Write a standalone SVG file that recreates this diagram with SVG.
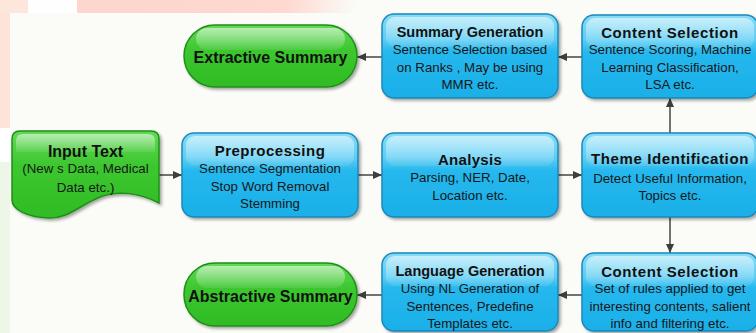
<svg xmlns="http://www.w3.org/2000/svg" width="756" height="333" viewBox="0 0 756 333">
  <defs>
    <style>
      .t { font-family: "Liberation Sans", Arial, sans-serif; text-anchor: middle; fill: #111; }
      .title { font-weight: bold; font-size: 14.5px; }
      .wide { letter-spacing: 0.6px; font-size: 15px; }
      .pill { font-weight: bold; font-size: 16px; }
      .body { font-size: 13.3px; fill: #161616; }
      .conn { stroke: #454545; stroke-width: 1.5; fill: none; marker-end: url(#arrow); }
      .blue { fill: url(#blueFill); stroke: #1a88bb; stroke-width: 1.5; filter: url(#shadow); }
      .green { fill: url(#greenFill); stroke: #1f8f18; stroke-width: 1.5; filter: url(#shadow); }
      .gloss { fill: url(#gloss); }
    </style>
    <linearGradient id="blueFill" x1="0" y1="0" x2="0" y2="1">
      <stop offset="0" stop-color="#86dcf7"/>
      <stop offset="0.3" stop-color="#5ccdf4"/>
      <stop offset="0.45" stop-color="#25b8ee"/>
      <stop offset="1" stop-color="#1aafe8"/>
    </linearGradient>
    <linearGradient id="greenFill" x1="0" y1="0" x2="0" y2="1">
      <stop offset="0" stop-color="#63d957"/>
      <stop offset="0.4" stop-color="#3cc72f"/>
      <stop offset="1" stop-color="#30bb24"/>
    </linearGradient>
    <linearGradient id="gloss" x1="0" y1="0" x2="0" y2="1">
      <stop offset="0" stop-color="#ffffff" stop-opacity="0.55"/>
      <stop offset="1" stop-color="#ffffff" stop-opacity="0.08"/>
    </linearGradient>
    <linearGradient id="pinkBand" x1="0" y1="0" x2="1" y2="0">
      <stop offset="0" stop-color="#fdd6cd"/>
      <stop offset="0.75" stop-color="#fdd9d1"/>
      <stop offset="1" stop-color="#fbfcf7"/>
    </linearGradient>
    <filter id="shadow" x="-10%" y="-10%" width="125%" height="130%">
      <feDropShadow dx="2" dy="2" stdDeviation="1.5" flood-color="#000" flood-opacity="0.35"/>
    </filter>
    <marker id="arrow" viewBox="0 0 9 8" refX="9" refY="4" markerWidth="9" markerHeight="8" markerUnits="userSpaceOnUse" orient="auto">
      <path d="M0,0 L9,4 L0,8 z" fill="#3d3d3d"/>
    </marker>
  </defs>

  <!-- page background with tinted margins -->
  <rect x="0" y="0" width="756" height="333" fill="#fbfcf7"/>
  <rect x="0" y="0" width="28" height="13" fill="#fde6dc"/>
  <rect x="28" y="0" width="49" height="13" fill="#fefefe"/>
  <rect x="77" y="0" width="280" height="13" fill="url(#pinkBand)"/>
  <rect x="0" y="13" width="10" height="115" fill="#fde3da"/>
  <rect x="0" y="128" width="10" height="34" fill="#ffffff"/>
  <rect x="0" y="162" width="10" height="171" fill="#eef6e8"/>

  <!-- connectors -->
  <g id="connectors">
    <path class="conn" d="M159,175 L182,175"/>
    <path class="conn" d="M358,175 L382,175"/>
    <path class="conn" d="M558,175 L582,175"/>
    <path class="conn" d="M670,133 L670,98"/>
    <path class="conn" d="M670,217 L670,253"/>
    <path class="conn" d="M582,57 L558,57"/>
    <path class="conn" d="M382,57 L357,57"/>
    <path class="conn" d="M582,295 L558,295"/>
    <path class="conn" d="M382,295 L357,295"/>
  </g>

  <!-- input document -->
  <g id="input-text">
    <path class="green" d="M12,139 Q12,131 20,131 L151,131 Q159,131 159,139 L159,203 C140,193 118,190 100,197 C80,205 68,219 48,218 C28,217 12,210 12,200 Z"/>
    <path class="gloss" d="M16,141 Q16,134 23,134 L148,134 Q155,134 155,141 L155,152 L16,152 Z"/>
    <text class="t pill" x="85.5" y="157">Input Text</text>
    <text class="t body" x="85.5" y="172.5">(New s Data, Medical</text>
    <text class="t body" x="85.5" y="191.5">Data etc.)</text>
  </g>

  <g id="preprocessing">
    <rect class="blue" x="182" y="133" width="176" height="84" rx="12"/>
    <rect class="gloss" x="186" y="136" width="168" height="30" rx="9"/>
    <text class="t title" x="270" y="155.5" style="font-size:15px;letter-spacing:0.5px">Preprocessing</text>
    <text class="t body" x="270" y="172.5">Sentence Segmentation</text>
    <text class="t body" x="270" y="190.5">Stop Word Removal</text>
    <text class="t body" x="270" y="207.5">Stemming</text>
  </g>

  <g id="analysis">
    <rect class="blue" x="382" y="133" width="176" height="84" rx="12"/>
    <rect class="gloss" x="386" y="136" width="168" height="30" rx="9"/>
    <text class="t title" x="470" y="164.5" style="font-size:15px;letter-spacing:0.3px">Analysis</text>
    <text class="t body" x="470" y="181.5">Parsing, NER, Date,</text>
    <text class="t body" x="470" y="199.5">Location etc.</text>
  </g>

  <g id="theme-identification">
    <rect class="blue" x="582" y="133" width="176" height="84" rx="12"/>
    <rect class="gloss" x="586" y="136" width="168" height="30" rx="9"/>
    <text class="t title wide" x="670" y="163.5">Theme Identification</text>
    <text class="t body" x="670" y="182.5">Detect Useful Information,</text>
    <text class="t body" x="670" y="199.5">Topics etc.</text>
  </g>

  <g id="content-selection-top">
    <rect class="blue" x="582" y="15" width="176" height="83" rx="12"/>
    <rect class="gloss" x="586" y="18" width="168" height="30" rx="9"/>
    <text class="t title wide" x="670" y="37.5">Content Selection</text>
    <text class="t body" x="670" y="53.5">Sentence Scoring, Machine</text>
    <text class="t body" x="670" y="71.5">Learning Classification,</text>
    <text class="t body" x="670" y="89">LSA etc.</text>
  </g>

  <g id="summary-generation">
    <rect class="blue" x="382" y="14" width="176" height="84" rx="12"/>
    <rect class="gloss" x="386" y="17" width="168" height="30" rx="9"/>
    <text class="t title" x="470" y="37">Summary Generation</text>
    <text class="t body" x="470" y="53.5">Sentence Selection based</text>
    <text class="t body" x="470" y="71.5">on Ranks , May be using</text>
    <text class="t body" x="470" y="88.5">MMR etc.</text>
  </g>

  <g id="extractive-summary">
    <rect class="green" x="184" y="25" width="173" height="62" rx="31"/>
    <rect class="gloss" x="196" y="28" width="149" height="22" rx="11"/>
    <text class="t pill" x="270.5" y="62.5">Extractive Summary</text>
  </g>

  <g id="content-selection-bottom">
    <rect class="blue" x="582" y="253" width="176" height="78" rx="12"/>
    <rect class="gloss" x="586" y="256" width="168" height="30" rx="9"/>
    <text class="t title wide" x="670" y="276.5">Content Selection</text>
    <text class="t body" x="670" y="292.5">Set of rules applied to get</text>
    <text class="t body" x="670" y="310.5">interesting contents, salient</text>
    <text class="t body" x="670" y="327.5">info and filtering etc.</text>
  </g>

  <g id="language-generation">
    <rect class="blue" x="382" y="253" width="176" height="78" rx="12"/>
    <rect class="gloss" x="386" y="256" width="168" height="30" rx="9"/>
    <text class="t title" x="470" y="276">Language Generation</text>
    <text class="t body" x="470" y="292.5">Using NL Generation of</text>
    <text class="t body" x="470" y="310.5">Sentences, Predefine</text>
    <text class="t body" x="470" y="327.5">Templates etc.</text>
  </g>

  <g id="abstractive-summary">
    <rect class="green" x="184" y="263" width="173" height="63" rx="31"/>
    <rect class="gloss" x="196" y="266" width="149" height="22" rx="11"/>
    <text class="t pill" x="270.5" y="301.5">Abstractive Summary</text>
  </g>
</svg>
